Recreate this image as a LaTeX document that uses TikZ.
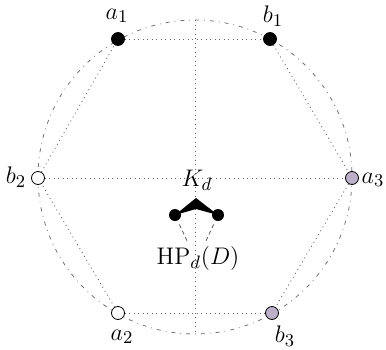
\documentclass[tikz,border=0pt]{standalone}
\usepackage{amsmath,amssymb}
\usetikzlibrary{arrows.meta,calc}
\definecolor{lilac}{RGB}{187,176,200}
\newcommand{\vtx}[3]{\node[vdot,fill=#3] (#1) at #2 {};}
\begin{document}
\begin{tikzpicture}[x=0.5pt,y=-0.5pt,
  vdot/.style={circle,draw=black,line width=0.4pt,inner sep=0pt,minimum size=6.5pt},
  cdot/.style={circle,fill=black,inner sep=0pt,minimum size=6pt},
  dotline/.style={black!60,line width=0.45pt,dash pattern=on 0.45pt off 1.8pt},
  rim/.style={black!55,line width=0.4pt,dash pattern=on 2pt off 2.5pt on 0.4pt off 2.5pt},
  lab/.style={font=\fontsize{13}{15}\selectfont,inner sep=1pt}]
\useasboundingbox (0,0) rectangle (386,349);
\coordinate (O) at (195,177);
\coordinate (N) at (195,20);
\coordinate (S) at (195,335);
\draw[rim] (O) circle[radius=157];
\draw[dotline] (N)--(S);
% the six vertices
\vtx{a1}{(118,39)}{black}
\vtx{b1}{(270,39)}{black}
\vtx{a3}{(352,178)}{lilac}
\vtx{b3}{(272,313)}{lilac}
\vtx{a2}{(118,313)}{white}
\vtx{b2}{(38,178)}{white}
\foreach \p/\q in {a1/b1,b1/a3,a3/b3,b3/a2,a2/b2,b2/a1,b2/a3}
  \draw[dotline] (\p)--(\q);
\node[lab] (la1) at (117,16) {$a_1$};
\node[lab] (lb1) at (273,16) {$b_1$};
\node[lab] (lb2) at (16,177) {$b_2$};
\node[lab] (la3) at (373,180) {$a_3$};
\node[lab] (la2) at (122,337) {$a_2$};
\node[lab] (lb3) at (285,336) {$b_3$};
% centre
\node[cdot] (ld) at (175,215) {};
\node[cdot] (rd) at (218,215) {};
\coordinate (pk) at (196,198);
\coordinate (pkb) at (196,209);
\fill (ld.center)--(pk)--(rd.center)--(pkb)--cycle;
\node[lab] (K) at (197,180) {$K_d$};
\node[lab] (HP) at (198,258) {$\mathrm{HP}_d(D)$};
\coordinate (hl) at (188,243);
\coordinate (hr) at (205,243);
\draw[black!65,line width=0.4pt,dash pattern=on 2pt off 1.5pt,shorten <=2pt] (ld)--(hl);
\draw[black!65,line width=0.4pt,dash pattern=on 2pt off 1.5pt,shorten <=2pt] (rd)--(hr);
\end{tikzpicture}
\end{document}
